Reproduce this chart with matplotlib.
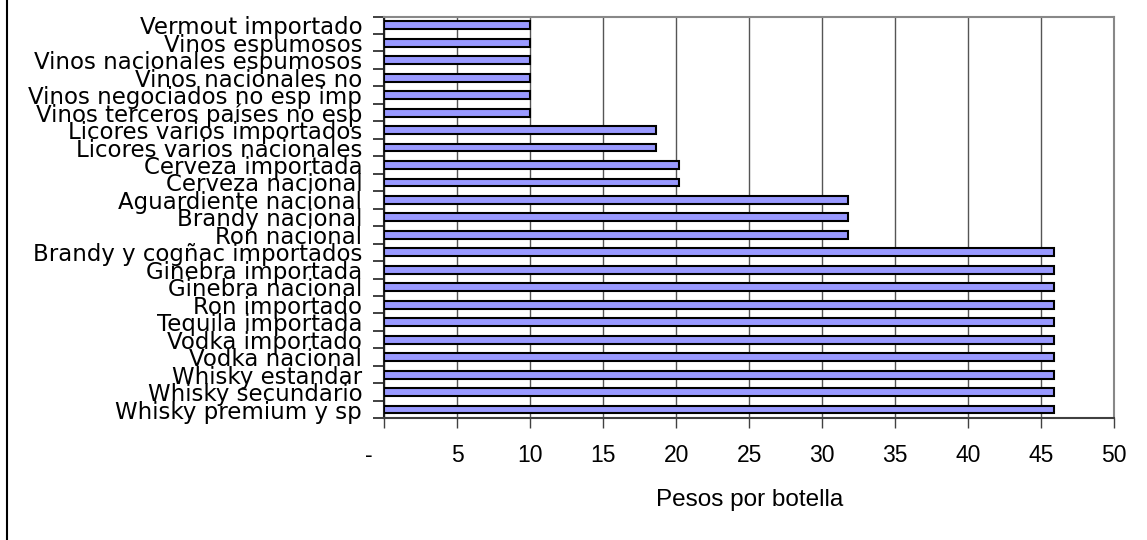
import matplotlib.pyplot as plt
from matplotlib.lines import Line2D
from matplotlib.ticker import FixedLocator

# Categorías (de arriba hacia abajo) y pesos por botella
categorias = [
    'Vermout importado',
    'Vinos espumosos',
    'Vinos nacionales espumosos',
    'Vinos nacionales no',
    'Vinos negociados no esp imp',
    'Vinos terceros países no esp',
    'Licores varios importados',
    'Licores varios nacionales',
    'Cerveza importada',
    'Cerveza nacional',
    'Aguardiente nacional',
    'Brandy nacional',
    'Ron nacional',
    'Brandy y cogñac importados',
    'Ginebra importada',
    'Ginebra nacional',
    'Ron importado',
    'Tequila importada',
    'Vodka importado',
    'Vodka nacional',
    'Whisky estandar',
    'Whisky secundario',
    'Whisky premium y sp',
]
pesos = [10, 10, 10, 10, 10, 10,
         18.6, 18.6, 20.2, 20.2,
         31.8, 31.8, 31.8,
         45.9, 45.9, 45.9, 45.9, 45.9, 45.9, 45.9, 45.9, 45.9, 45.9]

x_ticks = [0, 5, 10, 15, 20, 25, 30, 35, 40, 45, 50]
# formato contable: el cero se muestra como guion con espacios a la derecha
x_labels = ['-     ', '5', '10', '15', '20', '25', '30', '35', '40', '45', '50']

plt.rcParams['font.family'] = 'Liberation Sans'

fig = plt.figure(figsize=(11.47, 5.40), dpi=100)
ax = fig.add_axes([0.3351, 0.2254, 0.6362, 0.7440])

pos = list(range(len(categorias)))
ax.barh(pos, pesos, height=0.45, color='#9999FF', edgecolor='black',
        linewidth=1.5, zorder=3)

ax.set_xlim(0, 50)
ax.set_ylim(len(categorias) - 0.5, -0.5)

# Eje X: marcas hacia afuera y rejilla vertical
ax.set_xticks(x_ticks)
ax.set_xticklabels(x_labels, fontsize=16.5)
ax.tick_params(axis='x', direction='out', length=7.5, width=1,
               color='#404040', pad=11)
ax.grid(axis='x', color='#555555', linewidth=1, zorder=0)
ax.set_axisbelow(True)
ax.set_xlabel('Pesos por botella', fontsize=17.5, labelpad=16)

# Eje Y: etiquetas centradas, marcas entre categorías
ax.set_yticks(pos)
ax.set_yticklabels(categorias, fontsize=16.5, family='DejaVu Sans')
ax.tick_params(axis='y', which='major', length=0, pad=16)
ax.yaxis.set_minor_locator(FixedLocator([p - 0.5 for p in pos] + [len(pos) - 0.5]))
ax.tick_params(axis='y', which='minor', direction='out', length=8,
               width=1.2, color='#202020')

for lado in ['top', 'right']:
    ax.spines[lado].set_color('#888888')
    ax.spines[lado].set_linewidth(1.5)
ax.spines['left'].set_color('#202020')
ax.spines['left'].set_linewidth(1.5)
ax.spines['bottom'].set_color('#404040')
ax.spines['bottom'].set_linewidth(1.5)

# Borde izquierdo del área del gráfico
fig.add_artist(Line2D([7.5 / 1147, 7.5 / 1147], [0, 1], color='black',
                      linewidth=1.5, transform=fig.transFigure))

plt.savefig('out.png', dpi=100)
